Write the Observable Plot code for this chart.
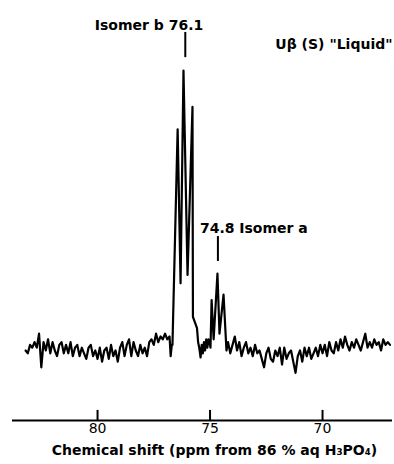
<!DOCTYPE html>
<html><head><meta charset="utf-8">
<script src="https://cdn.jsdelivr.net/npm/d3@7"></script>
<script src="https://cdn.jsdelivr.net/npm/@observablehq/plot@0.6"></script>
<style>body{margin:0;background:#fff}</style>
</head><body><div id="chart"></div>
<script>
const shift = [
 83.2,83.1,83.0,82.9,82.8,82.7,82.6,82.5,82.4,82.3,82.2,82.1,82.0,81.9,81.8,81.7,81.6,81.5,81.4,81.3,81.2,81.1,81.0,
 80.9,80.8,80.7,80.6,80.5,80.4,80.3,80.2,80.1,80.0,79.9,79.8,79.7,79.6,79.5,79.4,79.3,79.2,79.1,79.0,
 78.9,78.8,78.7,78.6,78.5,78.4,78.3,78.2,78.1,78.0,77.9,77.8,77.7,77.6,77.5,77.4,77.3,77.2,77.1,77.0,
 76.9,76.8,76.75,76.7,76.67,
 76.44,76.31,76.18,76.0,75.78,75.76,75.58,75.53,75.48,75.42,75.37,75.32,75.27,75.22,75.17,75.12,75.07,75.02,74.98,
 74.93,74.84,74.67,74.58,74.4,74.27,74.2,
 74.1,74.0,73.9,73.8,73.7,73.6,73.5,73.4,73.3,73.2,73.1,73.0,72.9,72.8,72.7,72.6,72.5,72.4,72.3,72.2,72.1,72.0,
 71.9,71.8,71.7,71.6,71.5,71.4,71.3,71.2,71.1,71.0,70.9,70.8,70.7,70.6,70.5,70.4,70.3,70.2,70.1,70.0,
 69.9,69.8,69.7,69.6,69.5,69.4,69.3,69.2,69.1,69.0,68.9,68.8,68.7,68.6,68.5,68.4,68.3,68.2,68.1,68.0,
 67.9,67.8,67.7,67.6,67.5,67.4,67.3,67.2,67.1,67.0
];
const intensity = [
 0,-1,2,1,3,1,6,-6,3,0,4,-1,3,0,-2,2,3,-1,2,-1,3,-2,1,
 2,-2,1,-1,-3,1,2,-2,0,-3,1,-4,0,1,-3,2,-2,0,-4,1,
 3,-2,2,4,-2,3,0,-2,2,-1,1,-2,3,4,2,6,3,5,4,6,
 4,5,-2,2,2,
 79,24,100,27,87,12,8,3,1,-2.5,2,-1,3,0,4,1,4,3,1,
 18,4,27.5,6,20,0,3,
 -1,2,5,0,3,-2,1,3,-1,1,-2,2,-1,0,-3,-6,-1,1,-3,-4,0,-2,
 1,-5,1,-3,-1,0,-4,-8,-2,0,-4,1,-2,1,-3,-1,1,-2,2,-1,
 2,-2,3,0,-1,3,0,4,1,5,2,0,3,1,4,2,0,3,6,1,
 3,1,4,2,3,0,4,2,3,2
];
const tickValues = [80, 75, 70];
const peakShifts = [76.1, 74.65];
const peakLabels = ["Isomer b 76.1", "74.8 Isomer a"];
const titleText = 'U\u03B2 (S) "Liquid"';
const xLabel = "Chemical shift (ppm from 86 % aq H\u2083PO\u2084)";

const data = shift.map((s, i) => ({shift: s, intensity: intensity[i]}));
const yDomain = [-25, 125];
const font = "DejaVu Sans";

const chart = Plot.plot({
  width: 394, height: 464,
  marginLeft: 12, marginRight: 2, marginTop: 0, marginBottom: 44,
  style: {fontFamily: font, fontSize: "14px", background: "white", color: "black"},
  x: {domain: [83.78, 66.89], axis: null},
  y: {domain: yDomain, axis: null},
  marks: [
    Plot.line(data, {x: "shift", y: "intensity", stroke: "black", strokeWidth: 2.2, strokeLinejoin: "round"}),
    Plot.ruleY([yDomain[0]], {stroke: "black", strokeWidth: 2}),
    Plot.ruleX(tickValues, {x: d => d, y1: yDomain[0], y2: yDomain[0] + 3.6, stroke: "black", strokeWidth: 2}),
    Plot.text(tickValues, {x: d => d, text: d => String(d), frameAnchor: "bottom", dy: 12, fontSize: 14, fill: "black"}),
    Plot.ruleX([peakShifts[0]], {x: d => d, y1: 104.6, y2: 113.6, stroke: "black", strokeWidth: 2}),
    Plot.ruleX([peakShifts[1]], {x: d => d, y1: 31.8, y2: 40.7, stroke: "black", strokeWidth: 2}),
    Plot.text([peakLabels[0]], {x: peakShifts[0], y: 114.3, text: d => d, textAnchor: "end", lineAnchor: "bottom", dx: 18, fontWeight: "bold", fill: "black"}),
    Plot.text([peakLabels[1]], {x: peakShifts[1], y: 42.1, text: d => d, textAnchor: "start", lineAnchor: "bottom", dx: -18, fontWeight: "bold", fill: "black"}),
    Plot.text([titleText], {text: d => d, frameAnchor: "top-right", textAnchor: "end", lineAnchor: "bottom", dy: 48, fontWeight: "bold", fill: "black"}),
    Plot.text([xLabel], {text: d => d, frameAnchor: "bottom", lineAnchor: "bottom", dy: 34, dx: 12, fontSize: 14, fontWeight: "bold", fill: "black"})
  ]
});
document.getElementById("chart").appendChild(chart);
</script>
</body></html>
